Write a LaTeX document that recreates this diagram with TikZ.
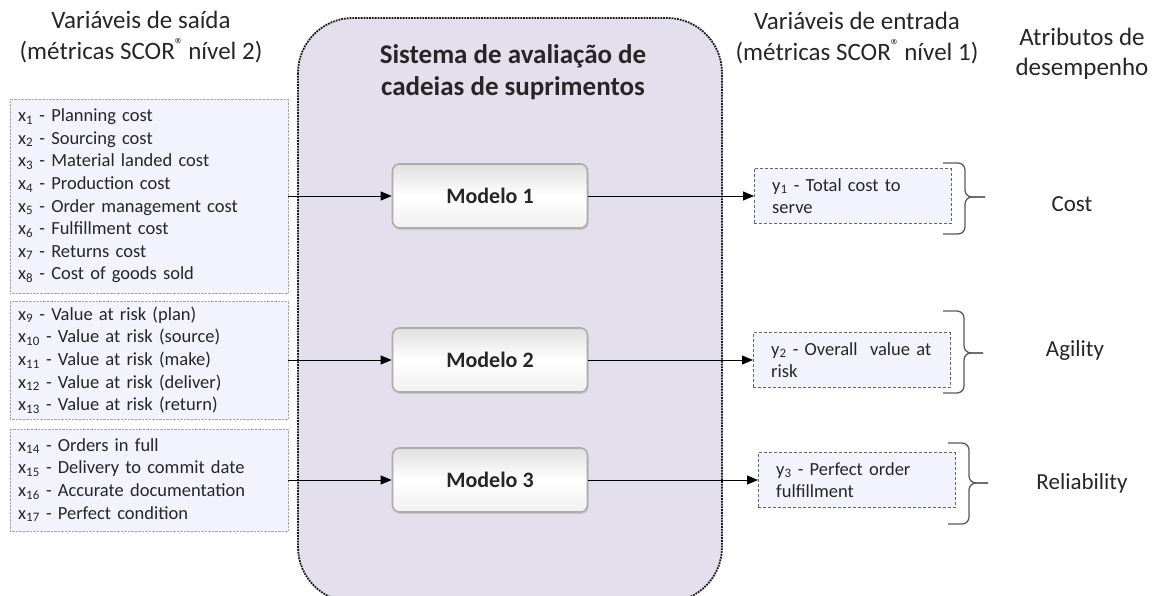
\documentclass[tikz,border=0pt]{standalone}
\usepackage{fontspec}
\setmainfont{Carlito}
\usetikzlibrary{arrows.meta,shadows}
\definecolor{frameviolet}{RGB}{228,223,236}
\definecolor{boxblue}{RGB}{243,243,253}
\definecolor{txtgray}{RGB}{38,38,38}
\newcommand{\scorreg}{SCOR\textsuperscript{\textregistered}\kern-1.5pt}
\tikzset{
    every node/.style={text=txtgray},
    listbox/.style={rectangle, draw=gray!70, densely dotted, fill=boxblue, anchor=west,
        align=left, text width=262pt, inner xsep=8pt, font=\fontsize{18.5}{22.6}\selectfont},
    outbox/.style={rectangle, draw=black!60, densely dashed, fill=boxblue, anchor=west,
        align=left, text width=161pt, inner xsep=18pt, minimum height=55pt,
        font=\fontsize{18.5}{22.6}\selectfont},
    modelbox/.style={rectangle, rounded corners=7pt, draw=gray!65, line width=1.6pt,
        top color=gray!25, bottom color=gray!12, middle color=white,
        minimum width=195pt, minimum height=64pt, font=\bfseries\fontsize{22}{26}\selectfont,
        drop shadow={opacity=.25, shadow xshift=1pt, shadow yshift=-2pt}},
    hdr/.style={align=center, font=\fontsize{25}{30.5}\selectfont},
    attr/.style={font=\fontsize{23}{28}\selectfont},
    flow/.style={-{Triangle[length=11pt,width=9pt]}, line width=1pt, black},
    attrbrace/.style={draw=black!65, line width=1.3pt, rounded corners=7pt}
}

\begin{document}
\begin{tikzpicture}[x=1pt, y=-1pt]
    \useasboundingbox (0,0) rectangle (1155,596);
    \draw [fill=frameviolet, draw=black!90, densely dotted, line width=1.8pt, rounded corners=55pt]
        (298,18) rectangle (722,602);

    \node (hdrout) [hdr] at (141,37) {Variáveis de saída\\(métricas \scorreg{} nível 2)};
    \node (hdrin) [hdr] at (857,38) {Variáveis de entrada\\(métricas \scorreg{} nível 1)};
    \node (hdrattr) [hdr] at (1082,54) {Atributos de\\desempenho};
    \node (title) [align=center, font=\bfseries\fontsize{27}{32}\selectfont] at (513,72)
        {Sistema de avaliação de\\cadeias de suprimentos};

    \node (list1) [listbox, minimum height=194pt] at (10,196) {%
        x\textsubscript{1} - Planning cost\\
        x\textsubscript{2} - Sourcing cost\\
        x\textsubscript{3} - Material landed cost\\
        x\textsubscript{4} - Production cost\\
        x\textsubscript{5} - Order management cost\\
        x\textsubscript{6} - Fulfillment cost\\
        x\textsubscript{7} - Returns cost\\
        x\textsubscript{8} - Cost of goods sold};
    \node (list2) [listbox, minimum height=118pt] at (10,360) {%
        x\textsubscript{9} - Value at risk (plan)\\
        x\textsubscript{10} - Value at risk (source)\\
        x\textsubscript{11} - Value at risk (make)\\
        x\textsubscript{12} - Value at risk (deliver)\\
        x\textsubscript{13} - Value at risk (return)};
    \node (list3) [listbox, minimum height=102pt] at (10,480) {%
        x\textsubscript{14} - Orders in full\\
        x\textsubscript{15} - Delivery to commit date\\
        x\textsubscript{16} - Accurate  documentation\\
        x\textsubscript{17} - Perfect condition};

    \node (m1) [modelbox] at (490,196) {Modelo 1};
    \node (m2) [modelbox] at (490,360) {Modelo 2};
    \node (m3) [modelbox] at (490,480) {Modelo 3};

    \node (out1) [outbox] at (754,196) {y\textsubscript{1} - Total cost to\\serve};
    \node (out2) [outbox] at (753,360) {y\textsubscript{2} - Overall\ \ value at\\risk};
    \node (out3) [outbox] at (758,480) {y\textsubscript{3} - Perfect order\\fulfillment};

    \node (cost) [attr] at (1072,204) {Cost};
    \node (agility) [attr] at (1075,350) {Agility};
    \node (reliab) [attr] at (1082,483) {Reliability};

    \draw [flow] (list1) -- (m1);
    \draw [flow] (list2) -- (m2);
    \draw [flow] (list3) -- (m3);
    \draw [flow] (m1) -- (out1);
    \draw [flow] (m2) -- (out2);
    \draw [flow] (m3) -- (out3);

    \draw [attrbrace] (943,163) -- (965,163) -- (965,197) -- (985,197);
    \draw [attrbrace] (943,234) -- (965,234) -- (965,197) -- (985,197);
    \draw [attrbrace] (943,311) -- (964,311) -- (964,353) -- (983,353);
    \draw [attrbrace] (943,393) -- (964,393) -- (964,353) -- (983,353);
    \draw [attrbrace] (948,443) -- (969,443) -- (969,483) -- (988,483);
    \draw [attrbrace] (948,524) -- (969,524) -- (969,483) -- (988,483);
\end{tikzpicture}
\end{document}
